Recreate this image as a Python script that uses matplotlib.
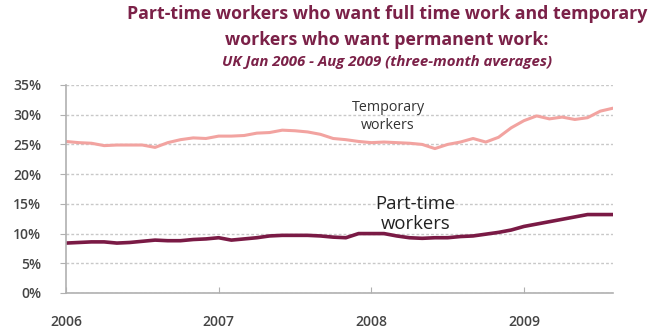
import numpy as np
import matplotlib
matplotlib.use("Agg")
import matplotlib.pyplot as plt
from matplotlib.ticker import FuncFormatter

# Monthly three-month averages, Jan 2006 - Aug 2009 (%)
temporary = [25.5, 25.3, 25.2, 24.8, 24.9, 24.9, 24.9, 24.5, 25.3, 25.8,
             26.1, 26.0, 26.4, 26.4, 26.5, 26.9, 27.0, 27.4, 27.3, 27.1,
             26.7, 26.0, 25.8, 25.5, 25.3, 25.4, 25.3, 25.2, 25.0, 24.3,
             25.0, 25.4, 26.0, 25.4, 26.2, 27.8, 29.0, 29.8, 29.3, 29.6,
             29.2, 29.5, 30.6, 31.1]
part_time = [8.4, 8.5, 8.6, 8.6, 8.4, 8.5, 8.7, 8.9, 8.8, 8.8,
             9.0, 9.1, 9.3, 8.9, 9.1, 9.3, 9.6, 9.7, 9.7, 9.7,
             9.6, 9.4, 9.3, 10.0, 10.0, 10.0, 9.6, 9.3, 9.2, 9.3,
             9.3, 9.5, 9.6, 9.9, 10.2, 10.6, 11.2, 11.6, 12.0, 12.4,
             12.8, 13.2, 13.2, 13.2]
years = [2006, 2007, 2008, 2009]
y_ticks = [0, 5, 10, 15, 20, 25, 30, 35]

plt.rcParams["font.family"] = ["Open Sans", "DejaVu Sans"]

months = 2006 + np.arange(len(temporary)) / 12.0

fig = plt.figure(figsize=(6.65, 3.36), dpi=100)
ax = fig.add_axes([66 / 665, 1 - 293 / 336, 547 / 665, 208 / 336])

ax.plot(months, temporary, color="#F2A3A0", lw=2.2, solid_capstyle="round")
ax.plot(months, part_time, color="#7A1A45", lw=2.6, solid_capstyle="round")

ax.set_xlim(months[0], months[-1])
ax.set_ylim(0, 35)
ax.set_yticks(y_ticks)
ax.yaxis.set_major_formatter(FuncFormatter(lambda v, p: f"{v:.0f}%"))
ax.set_xticks(years)
ax.set_xticklabels([str(y) for y in years])

ax.grid(axis="y", color="#C8C8C8", ls=(0, (2, 1.5)), lw=1.0)
ax.set_axisbelow(True)
for s in ["top", "right"]:
    ax.spines[s].set_visible(False)
for s in ["left", "bottom"]:
    ax.spines[s].set_color("#B0B0B0")
    ax.spines[s].set_linewidth(1.2)
ax.tick_params(axis="y", length=4, color="#B0B0B0", pad=14,
               labelsize=10, labelcolor="#444444")
ax.tick_params(axis="x", length=4, color="#B0B0B0", pad=16, direction="in",
               labelsize=10, labelcolor="#444444")
for lab in ax.get_xticklabels() + ax.get_yticklabels():
    lab.set_fontweight("semibold")

ax.text(2008.11, 29.7, "Temporary\nworkers", ha="center", va="center",
        fontsize=10.3, color="#333333", linespacing=1.3)
ax.text(2008.29, 13.3, "Part-time\nworkers", ha="center", va="center",
        fontsize=13.3, color="#222222", linespacing=1.15)

title_color = "#7B2148"
fig.text(387 / 665, 1 - 14 / 336, "Part-time workers who want full time work and temporary",
         ha="center", va="center", fontsize=12.8, fontweight="bold", color=title_color)
fig.text(387 / 665, 1 - 40 / 336, "workers who want permanent work:",
         ha="center", va="center", fontsize=12.8, fontweight="bold", color=title_color)
fig.text(387 / 665, 1 - 62 / 336, "UK Jan 2006 - Aug 2009 (three-month averages)",
         ha="center", va="center", fontsize=10.8, fontweight="bold", style="italic",
         color=title_color)

fig.savefig("out.png", dpi=100)
